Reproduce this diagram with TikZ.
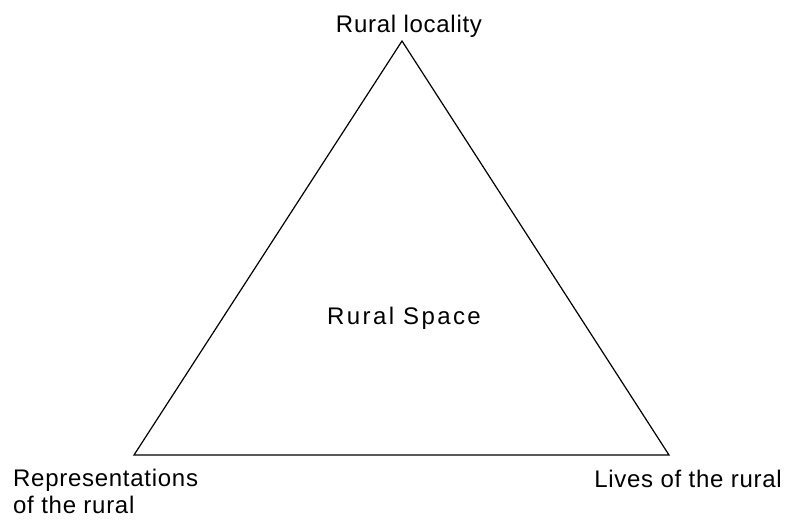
\documentclass[tikz,border=0pt]{standalone}
\usepackage{fontspec}
\setmainfont[LetterSpace=3]{Liberation Sans}
\newfontfamily\widefont[LetterSpace=10]{Liberation Sans}
\begin{document}
\begin{tikzpicture}[x=1pt,y=-1pt,every node/.style={font=\fontsize{24}{31}\selectfont,inner sep=0pt}]
 \useasboundingbox (0,0) rectangle (786,521);
 \coordinate (apex) at (402,41);
 \coordinate (left) at (134,455);
 \coordinate (right) at (669,455);
 \draw [line width=1.2pt,line join=miter] (apex) -- (right) -- (left) -- cycle;
 \node [anchor=base] (locality) at (409,33) {Rural locality};
 \node [anchor=base] (space) at (404,324) {\widefont Rural Space};
 \node [anchor=base west] (repr) at (13,486) {Representations};
 \node [anchor=base west] (reprrural) at (13,513) {of the rural};
 \node [anchor=base east] (lives) at (782,487) {Lives of the rural};
\end{tikzpicture}
\end{document}
